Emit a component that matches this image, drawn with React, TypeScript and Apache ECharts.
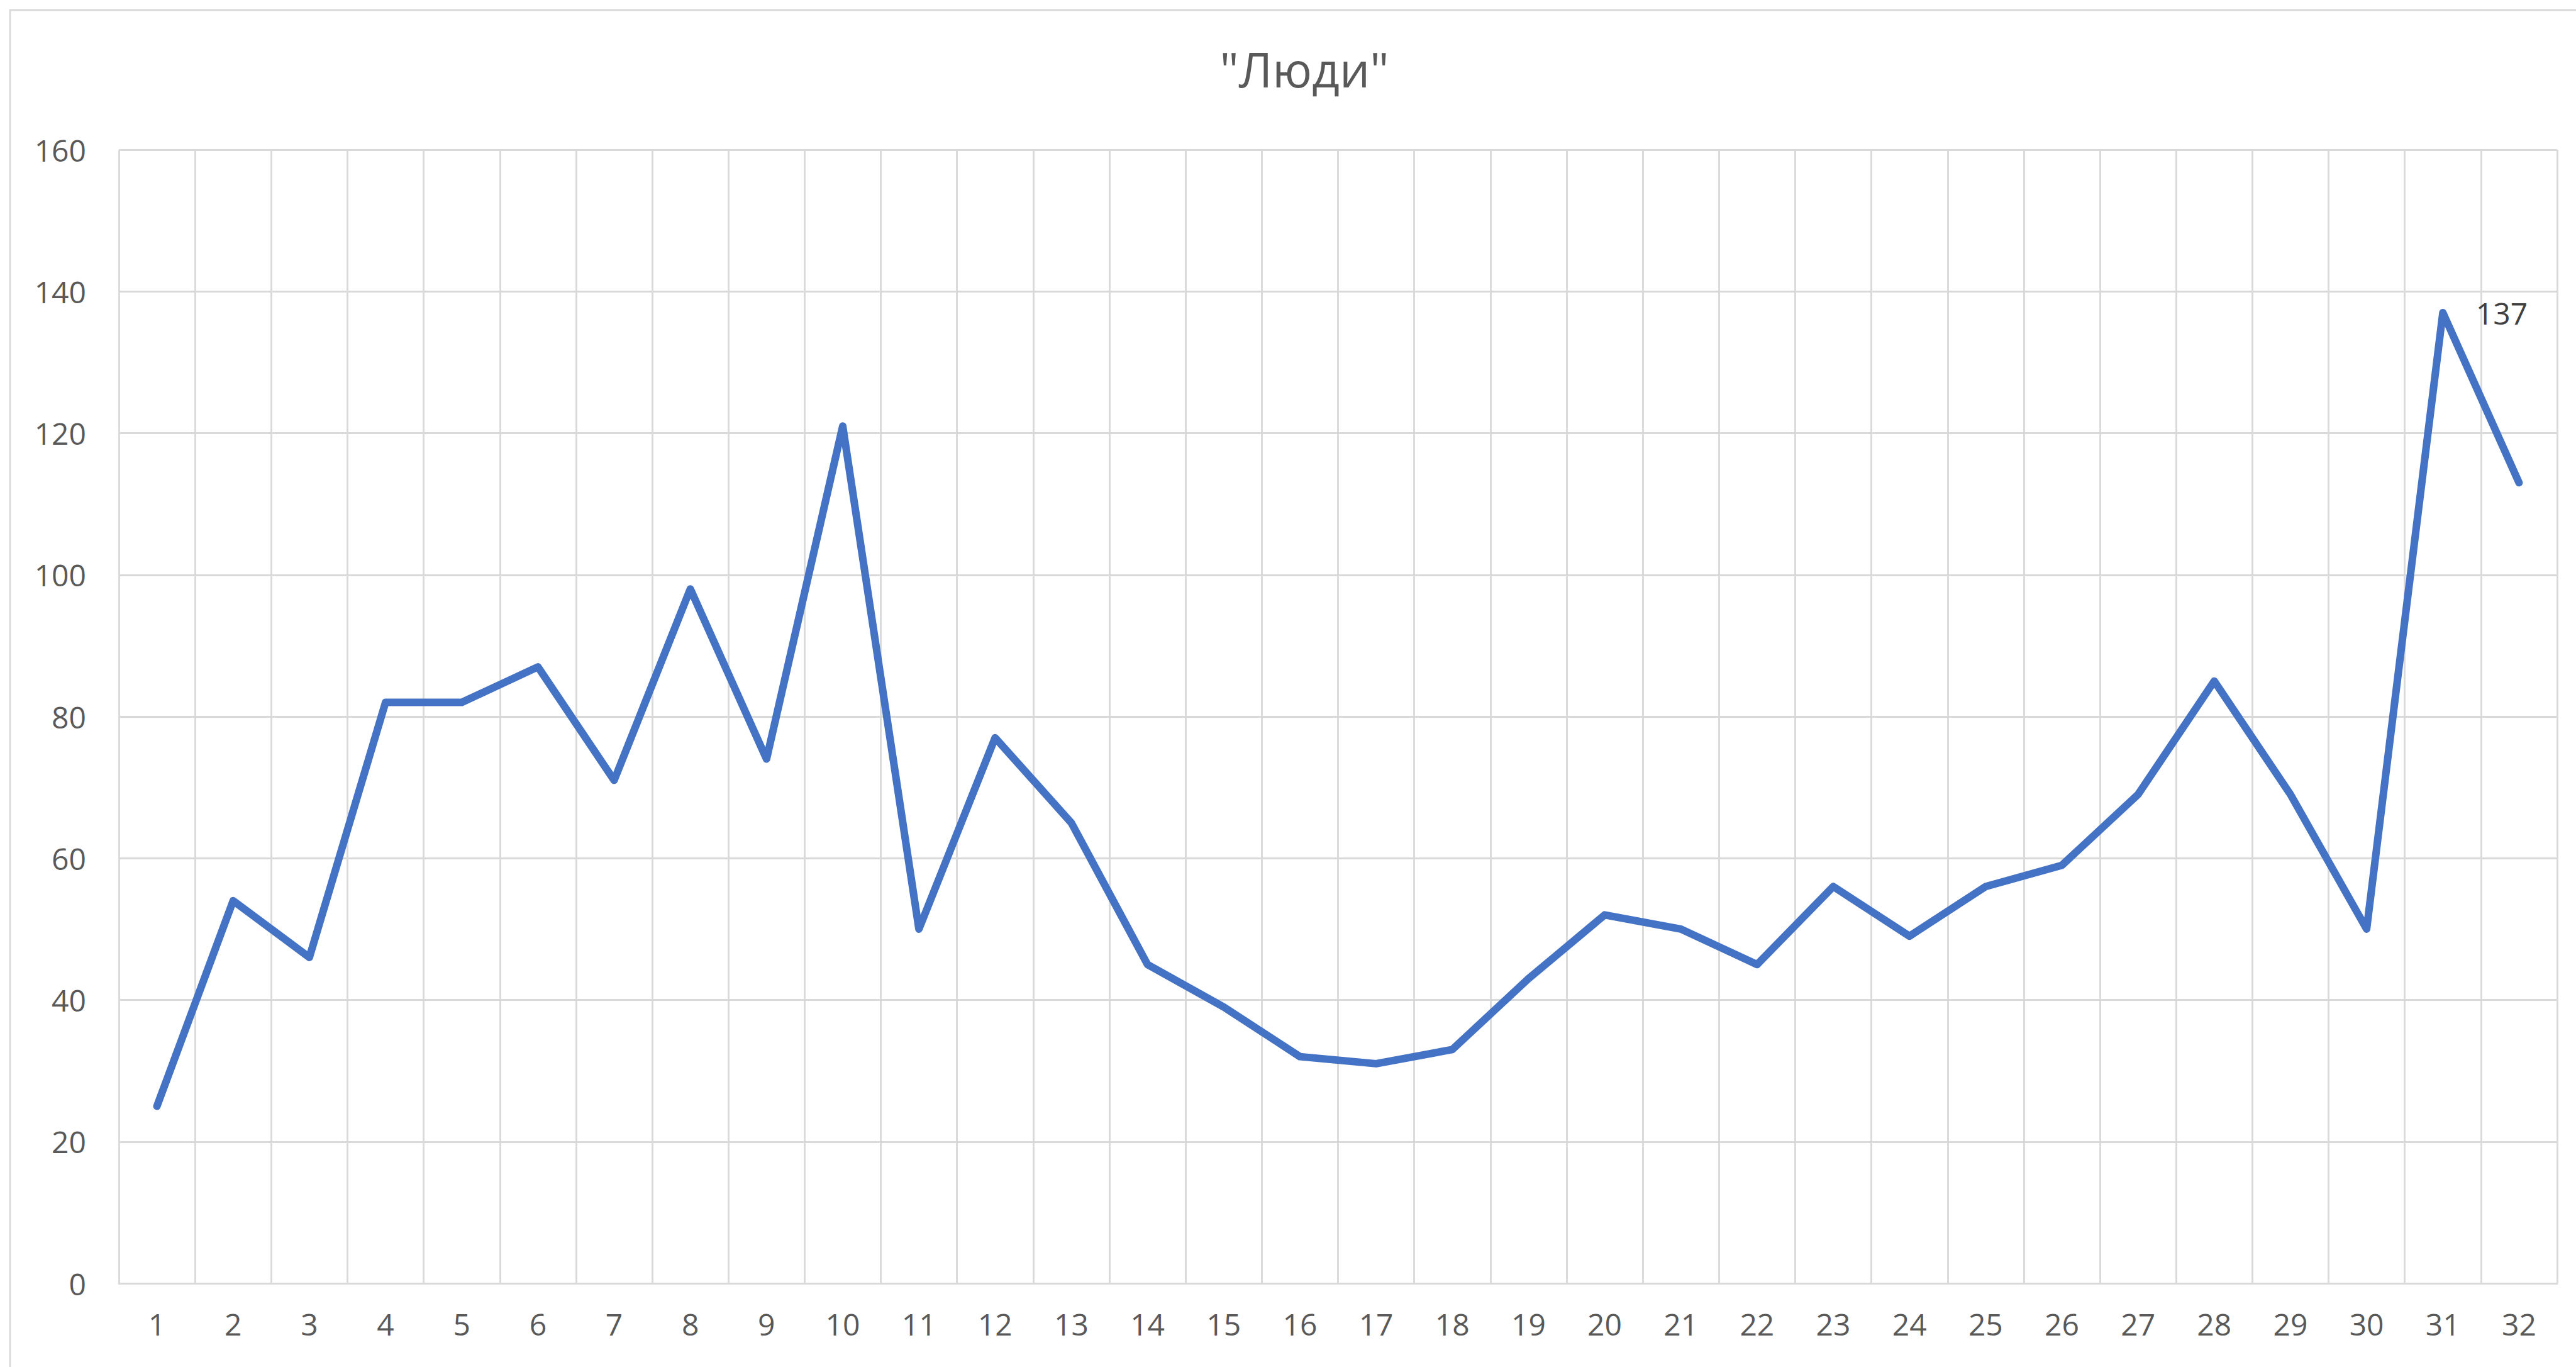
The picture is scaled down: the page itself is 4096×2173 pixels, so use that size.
import React, { useEffect, useRef } from "react";
import * as echarts from "echarts";

const categories = ["1","2","3","4","5","6","7","8","9","10","11","12","13","14","15","16","17","18","19","20","21","22","23","24","25","26","27","28","29","30","31","32"];
const people = [25, 54, 46, 82, 82, 87, 71, 98, 74, 121, 50, 77, 65, 45, 39, 32, 31, 33, 43, 52, 50, 45, 56, 49, 56, 59, 69, 85, 69, 50, 137, 113];
const labeledIndex = 30;
const titleText = '"Люди"';

export default function App() {
  const ref = useRef<HTMLDivElement>(null);
  useEffect(() => {
    if (!ref.current) return;
    const chart = echarts.init(ref.current, undefined, { renderer: "svg" });
    const font = "'Open Sans', 'Noto Sans', sans-serif";
    chart.setOption({
      animation: false,
      backgroundColor: "#ffffff",
      grid: { left: 189, right: 30, top: 238, bottom: 133, containLabel: false },
      graphic: [
        {
          type: "rect",
          shape: { x: 16, y: 16, width: 4300, height: 2400 },
          style: { fill: "none", stroke: "#d9d9d9", lineWidth: 2.8 },
          silent: true,
        },
        {
          type: "text",
          x: 2074,
          y: 109,
          style: {
            text: titleText,
            fontFamily: font,
            fontSize: 76,
            fill: "#595959",
            textAlign: "center",
            textVerticalAlign: "middle",
          },
        },
      ],
      xAxis: {
        type: "category",
        data: categories,
        boundaryGap: true,
        axisLine: { show: true, lineStyle: { color: "#d9d9d9", width: 3 } },
        axisTick: { show: false },
        splitLine: { show: true, lineStyle: { color: "#d9d9d9", width: 2.8 } },
        axisLabel: { color: "#595959", fontSize: 48, fontFamily: font, margin: 40, interval: 0 },
      },
      yAxis: {
        type: "value",
        min: 0,
        max: 160,
        interval: 20,
        axisLine: { show: false },
        axisTick: { show: false },
        splitLine: { show: true, lineStyle: { color: "#d9d9d9", width: 2.8 } },
        axisLabel: { color: "#595959", fontSize: 48, fontFamily: font, margin: 52 },
      },
      series: [
        {
          type: "line",
          data: people.map((v, i) =>
            i === labeledIndex
              ? {
                  value: v,
                  label: {
                    show: true,
                    position: "right",
                    distance: 52,
                    color: "#404040",
                    fontSize: 48,
                    fontFamily: font,
                  },
                }
              : v
          ),
          showSymbol: true,
          symbol: "circle",
          symbolSize: 1,
          lineStyle: { color: "#4472C4", width: 12, cap: "round", join: "round" },
          itemStyle: { color: "#4472C4" },
        },
      ],
    });
    return () => chart.dispose();
  }, []);
  return (
    <div
      ref={ref}
      style={{ position: "fixed", left: 0, top: 0, width: 4096, height: 2173 }}
    />
  );
}
